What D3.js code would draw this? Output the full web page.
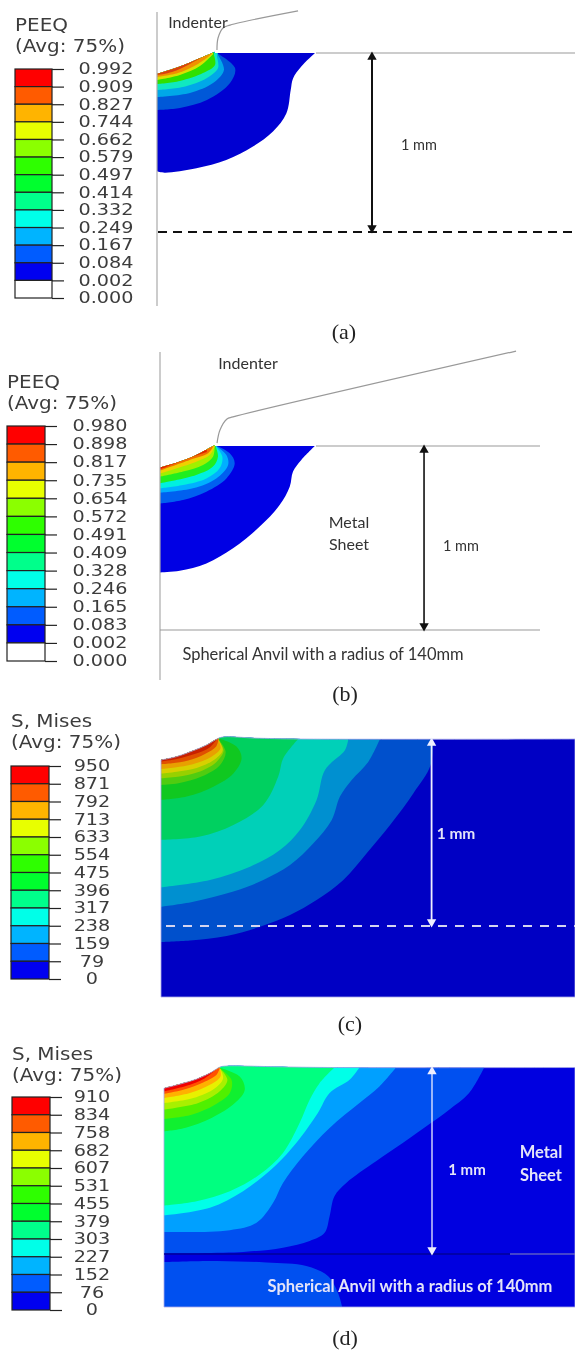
<!DOCTYPE html>
<html lang="en">
<head>
<meta charset="utf-8">
<title>PEEQ and Mises contours</title>
<style>
    body { margin: 0; background: #fff; }
    svg { display: block; filter: blur(0.55px); }
    .legend text { font-family: "DejaVu Sans", sans-serif; fill: #3c3c3c; }
    .note { font-family: Lato, sans-serif; }
    .caption { font-family: "Liberation Serif", serif; font-size: 22px; fill: #222; text-anchor: middle; }
</style>
</head>
<body>
<svg id="chart" width="575" height="1351"></svg>
<script src="https://d3js.org/d3.v7.min.js"></script>
<script>
// legend tick labels
const peeqA = ["0.992","0.909","0.827","0.744","0.662","0.579","0.497","0.414","0.332","0.249","0.167","0.084","0.002","0.000"];
const peeqB = ["0.980","0.898","0.817","0.735","0.654","0.572","0.491","0.409","0.328","0.246","0.165","0.083","0.002","0.000"];
const misesC = ["950","871","792","713","633","554","475","396","317","238","159","79","0"];
const misesD = ["910","834","758","682","607","531","455","379","303","227","152","76","0"];

// contour boundaries, [x, depth] in mm from the axis and the sheet surface
const arcA = [[0,.117],[.127,.076],[.238,.030],[.322,-.007]];
const outlineA = [
    [[.881,.002],[.806,.076],[.760,.142],[.747,.207],[.723,.337],[.648,.439],[.536,.523],[.387,.598],[.220,.644],[.043,.669],[0,.661]],
    [[.324,-.006],[.436,.084],[.408,.168],[.279,.263],[.128,.307],[0,.318]],
    [[.341,.011],[.374,.095],[.313,.168],[.184,.223],[0,.246]],
    [[.335,.022],[.341,.084],[.279,.140],[.145,.190],[0,.207]],
    [[.318,.011],[.324,.067],[.257,.112],[.128,.156],[0,.173]],
    [[.313,.006],[.240,.073],[.128,.123],[0,.151]],
    [[.307,.006],[.229,.061],[.117,.112],[0,.134]],
    [[.285,.006],[.184,.061],[.084,.106],[0,.123]]
];
const arcB = [[0,.116],[.089,.091],[.197,.049],[.297,-.005]];
const outlineB = [
    [[.841,0],[.768,.076],[.723,.139],[.705,.221],[.650,.321],[.542,.438],[.397,.556],[.252,.638],[.107,.678],[0,.687]],
    [[.297,-.005],[.379,.040],[.406,.094],[.361,.176],[.252,.248],[.125,.293],[0,.312]],
    [[.306,0],[.361,.049],[.370,.103],[.306,.176],[.179,.230],[0,.254]],
    [[.306,.004],[.339,.058],[.324,.121],[.252,.176],[.125,.212],[0,.230]],
    [[.303,.004],[.315,.058],[.288,.112],[.197,.158],[0,.203]],
    [[.297,.004],[.288,.058],[.234,.103],[.125,.139],[0,.167]],
    [[.297,.004],[.270,.049],[.197,.085],[0,.149]],
    [[.290,.002],[.261,.040],[.161,.076],[0,.134]],
    [[.254,.033],[.161,.065],[0,.127]]
];
const arcC = [[0,.112],[.084,.094],[.173,.062],[.244,.032],[.307,-.004],[.34,-.012],[.5,-.005],[.75,0],[2.3,0]];
const outlineC = [
    [[1.453,0],[1.442,.139],[1.349,.291],[1.225,.460],[1.100,.611],[.975,.754],[.832,.861],[.690,.941],[.529,1.004],[.351,1.053],[.155,1.078],[0,1.086]],
    [[1.171,0],[1.109,.121],[1.020,.219],[.957,.308],[.913,.433],[.815,.558],[.690,.674],[.547,.754],[.387,.816],[.173,.870],[0,.897]],
    [[1.002,0],[.984,.059],[.877,.166],[.832,.326],[.743,.487],[.636,.594],[.476,.683],[.262,.754],[0,.793]],
    [[.734,0],[.654,.103],[.627,.201],[.547,.353],[.387,.460],[.209,.522],[0,.540]],
    [[.307,-.004],[.405,.041],[.431,.103],[.387,.184],[.280,.255],[.137,.308],[0,.326]],
    [[.307,0],[.346,.068],[.316,.139],[.217,.201],[.093,.237],[0,.246]],
    [[.307,.005],[.335,.062],[.294,.125],[.196,.178],[.09,.202],[0,.210]],
    [[.307,.005],[.330,.059],[.289,.108],[.191,.155],[.084,.175],[0,.185]],
    [[.307,.005],[.318,.05],[.270,.095],[.170,.135],[.075,.152],[0,.160]],
    [[.307,0],[.295,.04],[.235,.08],[.145,.115],[.06,.13],[0,.135]],
    [[.30,0],[.26,.045],[.18,.08],[.09,.105],[0,.12]]
];
const arcD = [[0,.111],[.086,.089],[.175,.062],[.246,.030],[.299,-.002],[.33,-.008],[.6,-.004],[.9,0],[2.3,0]];
const outlineD = [
    [[1.717,0],[1.636,.137],[1.529,.226],[1.431,.298],[1.280,.405],[1.137,.503],[.977,.619],[.914,.690],[.888,.797],[.861,.886],[.781,.930],[.638,.966],[.424,.989],[0,.996]],
    [[1.244,0],[1.155,.102],[1.048,.191],[.888,.324],[.745,.476],[.638,.619],[.585,.725],[.496,.832],[.353,.872],[.139,.882],[0,.882]],
    [[1.048,0],[.995,.066],[.888,.137],[.825,.244],[.709,.405],[.594,.529],[.424,.663],[.246,.752],[0,.793]],
    [[.914,0],[.834,.084],[.781,.173],[.727,.298],[.638,.458],[.513,.574],[.353,.663],[.175,.717],[0,.740]],
    [[.291,-.002],[.406,.048],[.433,.119],[.380,.191],[.255,.271],[.112,.324],[0,.342]],
    [[.299,.004],[.362,.066],[.353,.137],[.273,.200],[.148,.253],[0,.276]],
    [[.299,.004],[.340,.066],[.299,.128],[.184,.191],[0,.226]],
    [[.299,.004],[.317,.057],[.273,.111],[.157,.164],[0,.191]],
    [[.299,.002],[.303,.048],[.246,.093],[.139,.137],[0,.164]],
    [[.299,.002],[.282,.039],[.210,.080],[.103,.119],[0,.141]],
    [[.29,0],[.219,.057],[.121,.098],[0,.128]]
];
const anvilD = [[0,1.043],[.282,1.037],[.549,1.046],[.763,1.064],[.879,1.118],[.932,1.207],[.955,1.283]];
const indenterA = [[.335,-.017],[.341,-.084],[.369,-.140],[.408,-.156],[.788,-.235]];
const indenterB = [[.310,-.016],[.326,-.087],[.364,-.147],[.397,-.158],[1.935,-.516]];

// colours
const ramp = ["#ff0000","#ff5b00","#ffb400","#e8ff00","#8bff00","#2eff00","#00ff2e","#00ff8b","#00ffe8","#00b4ff","#005cff","#0000f0"];
const fillsA = ["#0000d2","#0058d8","#00a8e8","#10e8c0","#30e000","#d8e000","#f09000","#d84010"];
const fillsB = ["#0000e4","#0060f0","#00b0ff","#00f0e0","#20ee20","#a0f000","#f0d000","#f07000","#e02000"];
const fillsC = ["#0050cc","#0090d0","#00d0b8","#00d060","#10c820","#50cc10","#98d000","#d8d000","#e8a000","#e05000","#c82000"];
const fillsD = ["#0050f0","#00a0ff","#00ffe8","#00ff80","#10f030","#50f000","#a8f000","#e8f000","#ffb000","#ff5000","#f00000"];

const svg = d3.select("#chart");

// stretch real text sideways, the legend type in the picture is wider than it is tall
function widen(sel, factor) {
    sel.each(function () {
        this.setAttribute("textLength", this.getComputedTextLength() * factor);
        this.setAttribute("lengthAdjust", "spacingAndGlyphs");
    });
}

function drawLegend(o) {
    const g = svg.append("g").attr("class", "legend");
    g.selectAll("text.title").data(o.title).enter().append("text")
        .attr("class", "title")
        .attr("x", o.x)
        .attr("y", (d, i) => o.titleY + i * 21)
        .style("font-size", "17.5px")
        .text(d => d)
        .call(widen, 1.14);

    const y = d3.scalePoint().domain(o.labels).range([o.top, o.bottom]);
    const cells = d3.pairs(o.labels);
    g.selectAll("rect").data(cells).enter().append("rect")
        .attr("x", o.x)
        .attr("y", d => y(d[0]))
        .attr("width", o.w)
        .attr("height", d => y(d[1]) - y(d[0]))
        .attr("fill", (d, i) => ramp[i] || "#fff")
        .attr("stroke", "#222")
        .attr("stroke-width", 1.2);

    const axis = g.append("g")
        .attr("transform", "translate(" + (o.x + o.w) + ",0)")
        .call(d3.axisRight(y).tickSize(12));
    axis.select(".domain").remove();
    axis.selectAll("line").attr("stroke", "#222").attr("stroke-width", 1.2);
    axis.selectAll("text")
        .attr("x", o.labelX - o.x - o.w)
        .attr("text-anchor", "middle")
        .style("font-size", "15px")
        .call(widen, 1.28);
}

function drawContours(o) {
    const x = d3.scaleLinear().domain([0, o.width]).range([o.x0, 575]);
    const y = d3.scaleLinear().domain([0, o.depth]).range([o.top, o.bottom]);
    const curve = d3.line().x(d => x(d[0])).y(d => y(d[1])).curve(d3.curveCatmullRom);
    const g = svg.append("g");
    const clipId = "clip" + o.id;

    // sheet shape: arc under the indenter, flat surface, then the far edges
    const last = o.arc[o.arc.length - 1];
    const shape = curve(o.arc) + "L" + x(last[0]) + "," + y(0) + "L" + x(o.width) + "," + y(0) +
        "L" + x(o.width) + "," + y(o.depth) + "L" + x(0) + "," + y(o.depth) + "Z";
    g.append("clipPath").attr("id", clipId).append("path").attr("d", shape);

    const body = g.append("g").attr("clip-path", "url(#" + clipId + ")");
    if (o.background) {
        body.append("rect")
            .attr("x", x(0)).attr("y", y(-0.1))
            .attr("width", x(o.width) - x(0)).attr("height", y(o.depth) - y(-0.1))
            .attr("fill", o.background);
    }
    body.selectAll("path").data(o.outlines).enter().append("path")
        .attr("fill", (d, i) => o.fills[i])
        .attr("d", d => curve(d) + "L" + x(0) + "," + y(-0.3) + "L" + x(d[0][0]) + "," + y(-0.3) + "Z");
    if (o.anvil) {
        body.append("path")
            .attr("fill", o.fills[0])
            .attr("d", curve(o.anvil) + "L" + x(0) + "," + y(o.depth) + "Z");
    }
    if (o.background) {
        g.append("path").attr("d", shape).attr("fill", "none").attr("stroke", "#a8a8e8").attr("stroke-width", 0.8);
    }
    return { g, x, y, curve };
}

function arrow(p, xMm, color, width) {
    const ax = p.x(xMm), top = p.y(0), bottom = p.y(1);
    p.g.append("line")
        .attr("x1", ax).attr("x2", ax)
        .attr("y1", top + 4).attr("y2", bottom - 4)
        .attr("stroke", color).attr("stroke-width", width);
    const head = d3.symbol().type(d3.symbolTriangle).size(38);
    p.g.append("path").attr("d", head()).attr("fill", color)
        .attr("transform", "translate(" + ax + "," + (top + 4) + ")");
    p.g.append("path").attr("d", head()).attr("fill", color)
        .attr("transform", "translate(" + ax + "," + (bottom - 4) + ") rotate(180)");
}

function note(str, x, y, size, color, weight) {
    svg.append("text").attr("class", "note")
        .attr("x", x).attr("y", y)
        .attr("text-anchor", "middle")
        .attr("dominant-baseline", "central")
        .style("font-size", size + "px")
        .style("font-weight", weight || 400)
        .attr("fill", color)
        .text(str);
}

function caption(str, x, y) {
    svg.append("text").attr("class", "caption").attr("x", x).attr("y", y).text(str);
}

function hline(p, x1, x2, d, color, width, dash) {
    p.g.append("line")
        .attr("x1", x1).attr("x2", x2)
        .attr("y1", p.y(d)).attr("y2", p.y(d))
        .attr("stroke", color).attr("stroke-width", width)
        .attr("stroke-dasharray", dash || null);
}

// (a)
drawLegend({ title: ["PEEQ", "(Avg: 75%)"], labels: peeqA, x: 15, w: 37, top: 69, bottom: 298, labelX: 106, titleY: 31 });
const a = drawContours({ id: "a", x0: 157, width: 418 / 179, top: 53, bottom: 232, depth: 1, arc: arcA, outlines: outlineA, fills: fillsA });
a.g.append("path").attr("d", a.curve(indenterA)).attr("fill", "none").attr("stroke", "#999").attr("stroke-width", 1.2);
a.g.append("line").attr("x1", 157).attr("x2", 157).attr("y1", 12).attr("y2", 306).attr("stroke", "#aaa").attr("stroke-width", 1.2);
hline(a, 316, 575, 0, "#999", 1.2);
hline(a, 158, 575, 1, "#111", 2, "9 6");
arrow(a, 1.201, "#111", 2);
note("Indenter", 198, 21, 16, "#333");
note("1 mm", 419, 144, 14.5, "#333");
caption("(a)", 344, 339);

// (b)
drawLegend({ title: ["PEEQ", "(Avg: 75%)"], labels: peeqB, x: 7, w: 38, top: 426, bottom: 661, labelX: 100, titleY: 388 });
const b = drawContours({ id: "b", x0: 160, width: 415 / 184, top: 446, bottom: 630, depth: 1, arc: arcB, outlines: outlineB, fills: fillsB });
b.g.append("path").attr("d", b.curve(indenterB)).attr("fill", "none").attr("stroke", "#999").attr("stroke-width", 1.2);
b.g.append("line").attr("x1", 160).attr("x2", 160).attr("y1", 352).attr("y2", 680).attr("stroke", "#aaa").attr("stroke-width", 1.2);
hline(b, 316, 540, 0, "#999", 1.2);
hline(b, 160, 540, 1, "#999", 1.2);
arrow(b, 1.435, "#111", 1.6);
note("Indenter", 248, 362, 16, "#333");
note("Metal", 349, 521, 16, "#333");
note("Sheet", 349, 543, 16, "#333");
note("1 mm", 461, 545, 14.5, "#333");
note("Spherical Anvil with a radius of 140mm", 323, 654, 16.5, "#333");
caption("(b)", 345, 701);

// (c)
drawLegend({ title: ["S, Mises", "(Avg: 75%)"], labels: misesC, x: 11, w: 38, top: 766, bottom: 979, labelX: 92, titleY: 727 });
const c = drawContours({ id: "c", x0: 161, width: 414 / 187, top: 739, bottom: 997, depth: 258 / 187, arc: arcC, outlines: outlineC, fills: fillsC, background: "#0000c4" });
hline(c, 166, 575, 1, "#d4d4f0", 2, "9 8");
arrow(c, 1.447, "#eef", 1.8);
note("1 mm", 456, 833, 15.5, "#e4e4f8", 700);
caption("(c)", 350, 1031);

// (d)
drawLegend({ title: ["S, Mises", "(Avg: 75%)"], labels: misesD, x: 12, w: 38, top: 1097, bottom: 1310, labelX: 92, titleY: 1060 });
const e = drawContours({ id: "d", x0: 164, width: 411 / 186.5, top: 1067.5, bottom: 1307, depth: 239.5 / 186.5, arc: arcD, outlines: outlineD, fills: fillsD, background: "#0000e0", anvil: anvilD });
hline(e, 164, 510, 1, "#00009a", 1.4);
hline(e, 510, 575, 1, "#8888b8", 1.2);
arrow(e, 1.437, "#eef", 1.3);
note("1 mm", 467, 1169, 15, "#e4e4f8", 700);
note("Metal", 541, 1152, 16.5, "#e4e4f8", 700);
note("Sheet", 541, 1175, 16.5, "#e4e4f8", 700);
note("Spherical Anvil with a radius of 140mm", 410, 1286, 16.5, "#e4e4f8", 700);
caption("(d)", 345, 1345);
</script>
</body>
</html>
